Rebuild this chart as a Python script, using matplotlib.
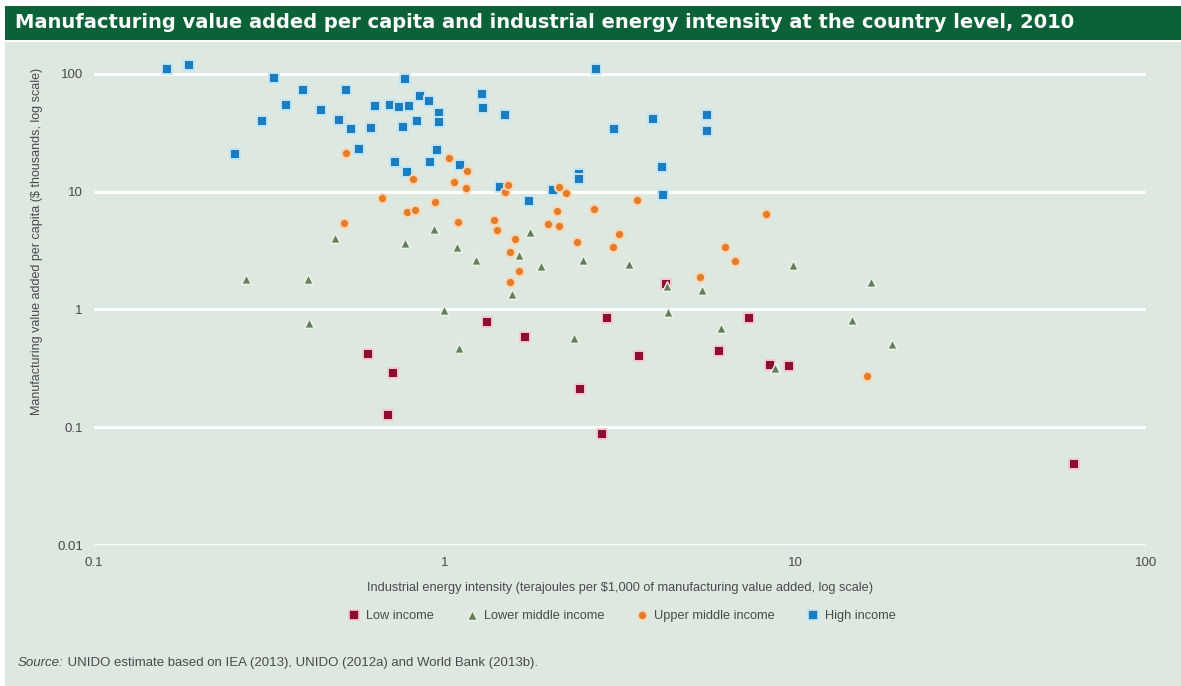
import matplotlib
matplotlib.use("Agg")
import matplotlib.pyplot as plt
from matplotlib.lines import Line2D
from matplotlib.patches import Rectangle

# ---------------- data ----------------
title = ("Manufacturing value added per capita and industrial energy "
         "intensity at the country level, 2010")
x_label = ("Industrial energy intensity (terajoules per $1,000 of "
           "manufacturing value added, log scale)")
y_label = "Manufacturing value added per capita ($ thousands, log scale)"
source_rest = " UNIDO estimate based on IEA (2013), UNIDO (2012a) and World Bank (2013b)."

x_ticks = [0.1, 1, 10, 100]
x_tick_labels = ["0.1", "1", "10", "100"]
y_ticks = [0.01, 0.1, 1, 10, 100]
y_tick_labels = ["0.01", "0.1", "1", "10", "100"]

categories = ["Low income", "Lower middle income", "Upper middle income", "High income"]

low_x = [1.318, 1.694, 0.603, 0.714, 0.691, 2.437, 2.815, 2.909, 7.36, 3.58,
         6.06, 8.47, 9.61, 62.4, 4.29]
low_y = [0.786, 0.578, 0.417, 0.291, 0.128, 0.211, 0.0877, 0.838, 0.843, 0.404,
         0.446, 0.336, 0.330, 0.0487, 1.63]

lmid_x = [0.487, 0.769, 0.934, 1.086, 1.231, 1.626, 1.747, 1.878, 2.485, 0.271,
          0.408, 1.553, 0.997, 0.410, 1.098, 2.337, 3.354, 4.295, 5.416, 9.86,
          16.46, 4.341, 6.14, 14.47, 18.89, 8.75]
lmid_y = [4.07, 3.69, 4.79, 3.37, 2.65, 2.92, 4.54, 2.32, 2.65, 1.80,
          1.81, 1.36, 0.98, 0.770, 0.472, 0.567, 2.43, 1.58, 1.46, 2.37,
          1.71, 0.956, 0.693, 0.817, 0.511, 0.321]

umid_x = [0.523, 1.031, 1.155, 0.811, 1.063, 1.150, 0.664, 0.938, 0.781, 0.823,
          0.517, 1.095, 1.483, 1.512, 2.218, 2.123, 1.380, 1.407, 1.585, 2.097,
          2.665, 3.535, 1.977, 2.114, 3.141, 2.388, 3.025, 6.30, 6.74, 5.33,
          16.0, 8.25, 1.532, 1.632, 1.536]
umid_y = [21.3, 19.3, 14.9, 12.9, 12.1, 10.7, 8.79, 8.13, 6.68, 6.99,
          5.46, 5.53, 10.0, 11.3, 9.75, 11.0, 5.75, 4.70, 3.96, 6.85,
          7.16, 8.45, 5.28, 5.08, 4.34, 3.73, 3.40, 3.40, 2.59, 1.88,
          0.271, 6.42, 3.05, 2.12, 1.72]

high_x = [0.162, 0.186, 0.326, 0.395, 0.523, 0.771, 0.353, 0.444, 0.633, 0.698,
          0.742, 0.793, 0.851, 0.902, 0.965, 0.963, 1.275, 1.289, 0.302, 0.499,
          0.540, 0.617, 0.762, 0.834, 0.571, 0.253, 0.952, 0.722, 0.909, 0.779,
          1.106, 2.696, 1.489, 3.934, 5.585, 5.585, 3.045, 2.421, 4.157, 4.201,
          1.742, 2.040, 1.438, 2.42]
high_y = [110, 119, 92, 72.4, 72.4, 89.8, 54, 49, 53.2, 54,
          52.5, 53.2, 65.2, 58.7, 46.7, 38.9, 67.7, 51.2, 39.7, 40.2,
          33.9, 34.4, 35.5, 39.7, 23.1, 20.8, 22.5, 18.0, 18.0, 14.6,
          16.7, 110.5, 44.9, 41.3, 44.9, 32.6, 33.9, 14.0, 16.2, 9.45,
          8.34, 10.3, 11.0, 12.7]

# ---------------- styling ----------------
W, H = 1181, 686
BG = "#dce8e0"
BANNER = "#0b6236"
C_LOW, E_LOW = "#8c0f2f", "#f4c9d2"
C_LMID, E_LMID = "#62805a", "#eef3ea"
C_UMID, E_UMID = "#e27d2c", "#fbd6b0"
C_HIGH, E_HIGH = "#1b7dc0", "#c2e4f5"
TXT = "#4a4a4a"
NARROW = ["Liberation Sans Narrow", "Liberation Sans", "DejaVu Sans"]

fig = plt.figure(figsize=(W / 100, H / 100), dpi=100, facecolor="white")

def fx(px):
    return px / W

def fy(py):
    return 1 - py / H

# background panel and title banner
fig.patches.append(Rectangle((fx(5), 0), 1 - fx(5), fy(42), transform=fig.transFigure,
                             facecolor=BG, edgecolor="none", zorder=-10))
fig.patches.append(Rectangle((fx(5), fy(40)), 1 - fx(5), fy(6) - fy(40),
                             transform=fig.transFigure, facecolor=BANNER,
                             edgecolor="none", zorder=-10))
fig.text(fx(15), fy(22), title, color="white", fontsize=14, fontweight="heavy",
         family="DejaVu Sans", va="center", ha="left")

# axes: x 0.1..100 spans px 94..1146 ; y 0.01 at px 545, top 160 at ~50
ax_left, ax_right = 94, 1146
ax_bottom = 545
ax_top = 49.8
ax = fig.add_axes([fx(ax_left), fy(ax_bottom), (ax_right - ax_left) / W,
                   (ax_bottom - ax_top) / H])
ax.set_facecolor("none")
ax.set_zorder(5)
ax.set_xscale("log")
ax.set_yscale("log")
ax.set_xlim(0.1, 100)
ax.set_ylim(0.01, 160)
for s in ax.spines.values():
    s.set_visible(False)
ax.set_xticks(x_ticks)
ax.set_xticklabels(x_tick_labels)
ax.set_yticks(y_ticks)
ax.set_yticklabels(y_tick_labels)
ax.minorticks_off()
ax.tick_params(length=0, colors=TXT, labelsize=9.5)
ax.tick_params(axis="x", pad=9)
ax.tick_params(axis="y", pad=8)
for lab in ax.get_xticklabels() + ax.get_yticklabels():
    lab.set_family(NARROW)
for yv in y_ticks:
    ax.axhline(yv, color="white", lw=2.2, zorder=1)

ax.scatter(high_x, high_y, marker="s", s=50, c=C_HIGH, edgecolors=E_HIGH,
           linewidths=1.4, zorder=3)
ax.scatter(low_x, low_y, marker="s", s=50, c=C_LOW, edgecolors=E_LOW,
           linewidths=1.4, zorder=3)
ax.scatter(lmid_x, lmid_y, marker="^", s=48, c=C_LMID, edgecolors=E_LMID,
           linewidths=1.0, zorder=3)
ax.scatter(umid_x, umid_y, marker="o", s=44, c=C_UMID, edgecolors=E_UMID,
           linewidths=1.4, zorder=3)

# axis titles
fig.text(fx(37), fy(241), y_label, rotation=90, color=TXT, fontsize=9,
         family=NARROW, ha="center", va="center")
fig.text(fx(620), fy(588), x_label, color=TXT, fontsize=9.2, family=NARROW,
         ha="center", va="center")

# legend
handles = [
    Line2D([], [], ls="none", marker="s", ms=6.5, mfc=C_LOW, mec=E_LOW, mew=1.2),
    Line2D([], [], ls="none", marker="^", ms=6.5, mfc=C_LMID, mec=E_LMID, mew=1.0),
    Line2D([], [], ls="none", marker="o", ms=6.5, mfc=C_UMID, mec=E_UMID, mew=1.2),
    Line2D([], [], ls="none", marker="s", ms=6.5, mfc=C_HIGH, mec=E_HIGH, mew=1.2),
]
leg = fig.legend(handles, categories, loc="center", ncol=4,
                 bbox_to_anchor=(fx(622), fy(616)), frameon=False,
                 prop={"family": NARROW, "size": 9.2}, handlelength=0.9,
                 handletextpad=0.5, columnspacing=2.5, labelcolor=TXT)
leg.set_zorder(6)

# source line
t1 = fig.text(fx(18), fy(663), "Source:", color=TXT, fontsize=9.5, family=NARROW,
              style="italic", ha="left", va="center")
fig.canvas.draw()
bb = t1.get_window_extent()
fig.text(bb.x1 / W, fy(663), source_rest, color=TXT, fontsize=9.5, family=NARROW,
         ha="left", va="center")

fig.savefig("out.png", dpi=100, facecolor="white")
